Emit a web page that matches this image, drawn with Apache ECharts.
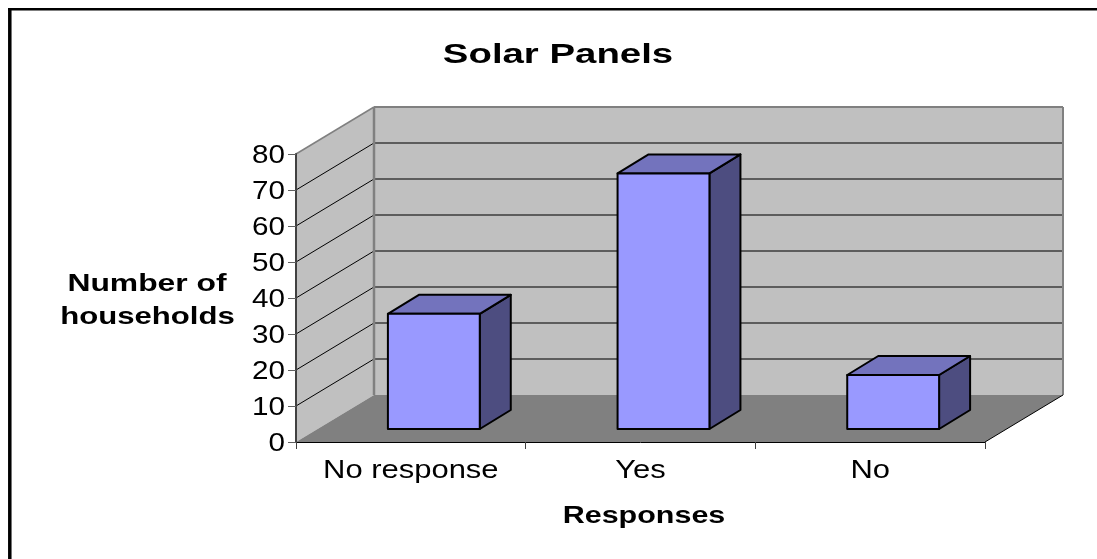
<!DOCTYPE html>
<html><head><meta charset="utf-8">
<style>html,body{margin:0;padding:0;background:#fff}#c{width:1097px;height:559px}</style>
<script src="https://cdn.jsdelivr.net/npm/echarts@6/dist/echarts.min.js"></script>
</head><body><div id="c"></div>
<script>
const categories = ['No response', 'Yes', 'No'];
const households = [32, 71, 15];
const yTicks = [0, 10, 20, 30, 40, 50, 60, 70, 80];
const titleText = 'Solar Panels';
const xName = 'Responses';
const yNameLines = ['Number of', 'households'];

const WALL_DX = 78, WALL_DY = 47;
const BAR_OFF_DX = 23, BAR_OFF_DY = 13;
const BAR_DX = 31, BAR_DY = 19;
const BAR_FRAC = 0.4;
const FONT = '"Liberation Sans", Arial, sans-serif';

function poly(points, fill, stroke, lw) {
  return {type:'polygon', shape:{points}, style:{fill, stroke: stroke||null, lineWidth: lw||0, lineJoin:'round'}};
}
function seg(x1,y1,x2,y2,stroke,lw){
  return {type:'line', shape:{x1,y1,x2,y2}, style:{stroke, lineWidth:lw}};
}
function label(text,x,y,align,scaleX){
  return {type:'text', x, y, scaleX, style:{text, fontFamily:FONT, fontSize:26, fill:'#000', align, verticalAlign:'middle'}};
}
function boldText(text,x,y,fontSize,scaleX){
  return {type:'text', x, y, scaleX, z:10, style:{text, fontFamily:FONT, fontWeight:'bold', fontSize, fill:'#000', align:'center', verticalAlign:'middle'}};
}
function renderWalls(params, api){
  const cs = params.coordSys;
  const l=cs.x, r=cs.x+cs.width, t=cs.y, b=cs.y+cs.height;
  const ch=[
    poly([[l+WALL_DX,t-WALL_DY],[r+WALL_DX,t-WALL_DY],[r+WALL_DX,b-WALL_DY],[l+WALL_DX,b-WALL_DY]],'#c0c0c0'),
    poly([[l,t],[l+WALL_DX,t-WALL_DY],[l+WALL_DX,b-WALL_DY],[l,b]],'#c0c0c0'),
    poly([[l,b],[l+WALL_DX,b-WALL_DY],[r+WALL_DX,b-WALL_DY],[r,b]],'#808080')
  ];
  yTicks.slice(1,-1).forEach(v=>{
    const y=api.coord([0,v])[1];
    ch.push(seg(l,y,l+WALL_DX,y-WALL_DY,'#000',1));
    ch.push(seg(l+WALL_DX,y-WALL_DY,r+WALL_DX,y-WALL_DY,'#3c3c3c',1.5));
  });
  ch.push(seg(l,t,l+WALL_DX,t-WALL_DY,'#808080',1.5));
  ch.push(seg(l+WALL_DX,t-WALL_DY,r+WALL_DX,t-WALL_DY,'#808080',2));
  ch.push(seg(l+WALL_DX,t-WALL_DY,l+WALL_DX,b-WALL_DY,'#808080',2.5));
  ch.push(seg(r+WALL_DX,t-WALL_DY,r+WALL_DX,b-WALL_DY,'#808080',2));
  ch.push(seg(r,b,r+WALL_DX,b-WALL_DY,'#000',1));
  return {type:'group', children:ch};
}
function renderBar(params, api){
  const top=api.coord([api.value(0),api.value(1)]);
  const base=api.coord([api.value(0),0]);
  const w=api.size([1,0])[0]*BAR_FRAC;
  const xl=top[0]-w/2+BAR_OFF_DX, xr=xl+w;
  const yt=top[1]-BAR_OFF_DY, yb=base[1]-BAR_OFF_DY;
  const s='#000', lw=2;
  return {type:'group', children:[
    poly([[xr,yt],[xr+BAR_DX,yt-BAR_DY],[xr+BAR_DX,yb-BAR_DY],[xr,yb]],'#4d4d80',s,lw),
    poly([[xl,yt],[xl+BAR_DX,yt-BAR_DY],[xr+BAR_DX,yt-BAR_DY],[xr,yt]],'#7373bd',s,lw),
    poly([[xl,yt],[xr,yt],[xr,yb],[xl,yb]],'#9999ff',s,lw)
  ]};
}
function renderLabels(params, api){
  const cs=params.coordSys, b=cs.y+cs.height;
  const ch=[];
  yTicks.forEach(v=>{ ch.push(label(String(v), cs.x-11, api.coord([0,v])[1]+2, 'right', 1.14)); });
  categories.forEach((c,i)=>{ ch.push(label(c, api.coord([i,0])[0], b+29, 'center', 1.19)); });
  return {type:'group', children:ch};
}
const chart = echarts.init(document.getElementById('c'), null, {renderer:'canvas'});
chart.setOption({
  animation:false,
  backgroundColor:'#fff',
  grid:{left:296,top:154,width:689,height:288,containLabel:false},
  xAxis:{type:'category',data:categories,z:2,
    axisLine:{show:true,lineStyle:{color:'#000',width:1}},
    axisTick:{show:true,alignWithLabel:false,length:7,lineStyle:{color:'#404040',width:1}},
    axisLabel:{show:false},
    splitLine:{show:false}},
  yAxis:{type:'value',min:0,max:80,interval:10,z:2,
    axisLine:{show:true,lineStyle:{color:'#404040',width:2}},
    axisTick:{show:true,length:8,lineStyle:{color:'#606060',width:1}},
    axisLabel:{show:false},
    splitLine:{show:false}},
  graphic:[
    {type:'line',shape:{x1:8,y1:9.2,x2:1097,y2:9.2},style:{stroke:'#000',lineWidth:2.5}},
    {type:'line',shape:{x1:9.8,y1:8,x2:9.8,y2:559},style:{stroke:'#000',lineWidth:3.5}},
    boldText(titleText,558,55,28,1.37),
    boldText(xName,644,516,24,1.27),
    boldText(yNameLines[0],147,284,24.5,1.3),
    boldText(yNameLines[1],147.5,317,24.5,1.27)
  ],
  series:[
    {type:'custom',coordinateSystem:'cartesian2d',z:1,silent:true,renderItem:renderWalls,data:[[0,0]],clip:false},
    {type:'custom',coordinateSystem:'cartesian2d',z:3,silent:true,renderItem:renderBar,clip:false,
     encode:{x:0,y:1},data:categories.map((c,i)=>[i,households[i]])},
    {type:'custom',coordinateSystem:'cartesian2d',z:4,silent:true,renderItem:renderLabels,data:[[0,0]],clip:false}
  ]
});
</script></body></html>
